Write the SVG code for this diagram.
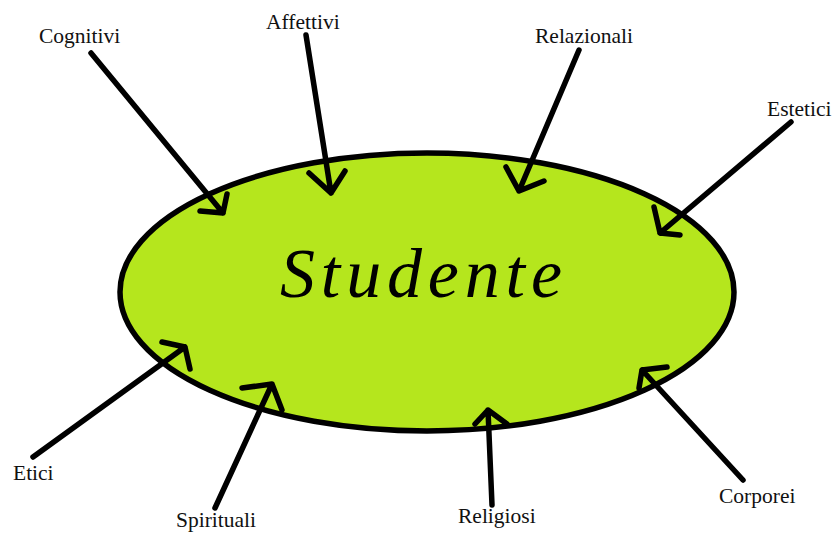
<svg xmlns="http://www.w3.org/2000/svg" width="837" height="533" viewBox="0 0 837 533">
<style>
.lbl{font-family:"Liberation Serif","Times New Roman",serif;font-size:21.5px;fill:#111}
.arr{fill:none;stroke:#000;stroke-width:5.5;stroke-linecap:round;stroke-linejoin:round}
.main{font-family:"Liberation Serif","Times New Roman",serif;font-style:italic;font-size:70px;fill:#000}
</style>
<rect width="837" height="533" fill="#fff"/>
<g id="studente">
<ellipse cx="427" cy="292" rx="307" ry="139" fill="#b5e61d" stroke="#000" stroke-width="5.5"/>
<text class="main" x="280" y="297" textLength="282" lengthAdjust="spacing">Studente</text>
</g>
<g id="connectors">
<path class="arr" d="M91,53 L223,213 M200,211 L223,213 L227,194"/>
<path class="arr" d="M306,35 L331,193 M309,173 L331,193 L345,171"/>
<path class="arr" d="M579,50 L519,191 M506,167 L519,191 L544,181"/>
<path class="arr" d="M791,122 L660,233 M654,207 L660,233 L680,235"/>
<path class="arr" d="M33,457 L185,347 M162,342 L185,347 L190,369"/>
<path class="arr" d="M215,508 L272,384 M242,388 L272,384 L282,410"/>
<path class="arr" d="M492,505 L488,410 M475,424 L488,410 L507,424"/>
<path class="arr" d="M743,480 L642,370 M667,367 L642,370 L639,388"/>
</g>
<g id="cognitivi"><text class="lbl" x="39" y="43">Cognitivi</text></g>
<g id="affettivi"><text class="lbl" x="266" y="29">Affettivi</text></g>
<g id="relazionali"><text class="lbl" x="535" y="43">Relazionali</text></g>
<g id="estetici"><text class="lbl" x="767" y="116">Estetici</text></g>
<g id="etici"><text class="lbl" x="13" y="480">Etici</text></g>
<g id="spirituali"><text class="lbl" x="176" y="527">Spirituali</text></g>
<g id="religiosi"><text class="lbl" x="458" y="523">Religiosi</text></g>
<g id="corporei"><text class="lbl" x="719" y="503">Corporei</text></g>
</svg>
